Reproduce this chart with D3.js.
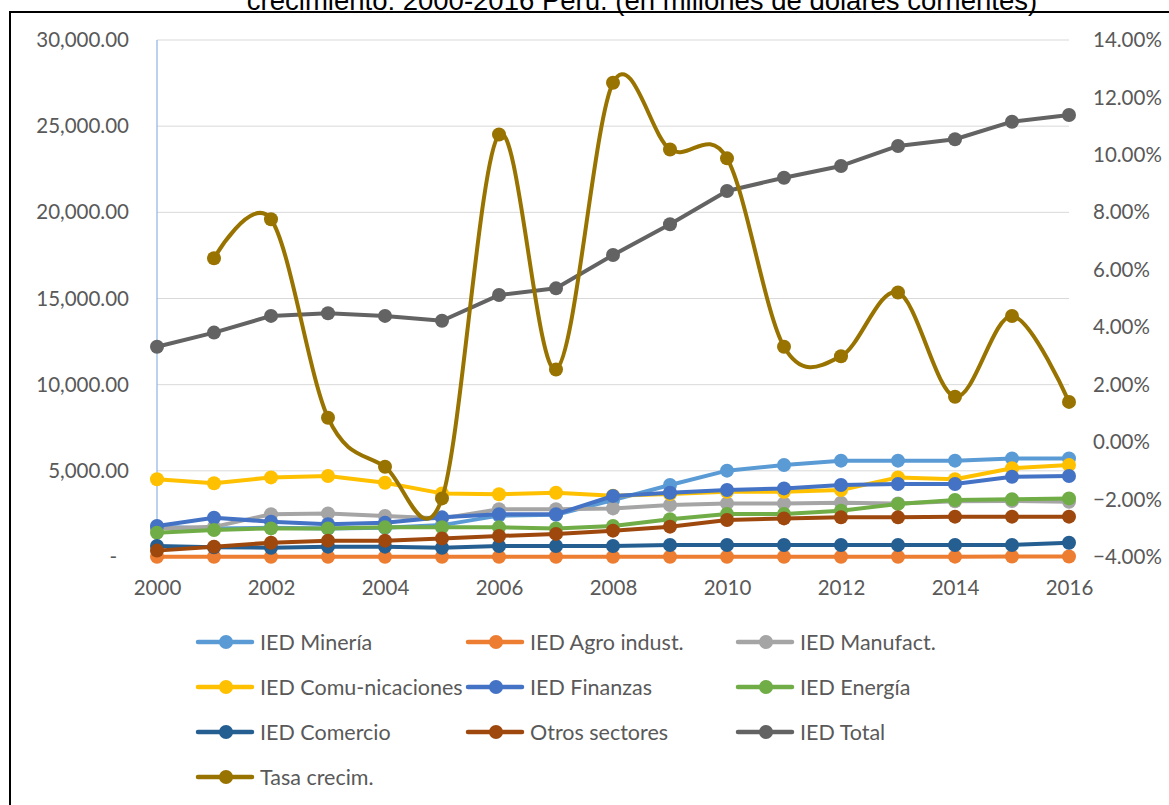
<!DOCTYPE html>
<html>
<head>
<meta charset="utf-8">
<script src="https://cdn.jsdelivr.net/npm/d3@7"></script>
<style>
  html, body { margin: 0; padding: 0; background: #fff; }
  svg { display: block; }
</style>
</head>
<body>
<svg id="chart" width="1169" height="805"></svg>
<script>
const titleText = "crecimiento: 2000-2016 Perú. (en millones de dólares corrientes)";
const years = [2000,2001,2002,2003,2004,2005,2006,2007,2008,2009,2010,2011,2012,2013,2014,2015,2016];
const xTickYears = [2000,2002,2004,2006,2008,2010,2012,2014,2016];
const leftTicks = [0,5000,10000,15000,20000,25000,30000];
const rightTicks = [-0.04,-0.02,0,0.02,0.04,0.06,0.08,0.10,0.12,0.14];

const mineria      = [1750,1650,1700,1650,1700,1850,2400,2450,3300,4180,5010,5340,5590,5590,5590,5720,5720];
const agro         = [15,15,15,15,15,15,15,15,15,15,15,15,15,15,20,25,25];
const manufact     = [1650,1750,2480,2530,2380,2240,2770,2770,2820,3020,3110,3110,3150,3110,3230,3250,3210];
const comunic      = [4510,4280,4620,4700,4310,3690,3640,3730,3560,3660,3790,3790,3890,4620,4510,5150,5340];
const finanzas     = [1800,2280,2050,1900,1990,2300,2480,2480,3540,3730,3890,3980,4180,4240,4240,4660,4700];
const energia      = [1410,1570,1660,1660,1720,1720,1720,1660,1800,2190,2500,2500,2690,3080,3310,3350,3400];
const comercio     = [640,560,540,600,600,540,640,640,640,700,700,700,700,700,700,700,830];
const otros        = [370,600,830,950,950,1080,1220,1340,1530,1760,2150,2240,2300,2300,2340,2340,2340];
const total        = [12200,13020,13990,14140,13990,13710,15200,15590,17520,19310,21240,22010,22690,23850,24240,25260,25650];
const tasa         = [null,0.0640,0.0776,0.0085,-0.0086,-0.0196,0.1071,0.0253,0.1251,0.1019,0.0988,0.0332,0.0299,0.0521,0.0158,0.0439,0.0140];

const seriesNames  = ["IED Minería","IED Agro indust.","IED Manufact.","IED Comu-nicaciones","IED Finanzas","IED Energía","IED Comercio","Otros sectores","IED Total","Tasa crecim."];
const seriesColors = ["#5B9BD5","#ED7D31","#A5A5A5","#FFC000","#4472C4","#70AD47","#255E91","#9E480E","#636363","#997300"];
const seriesValues = [mineria,agro,manufact,comunic,finanzas,energia,comercio,otros,total,tasa];

const series = seriesNames.map((n,i)=>({name:n,color:seriesColors[i],values:seriesValues[i],right:i===9}));

const svg = d3.select("#chart");
const font = "Lato, 'Liberation Sans', sans-serif";
const grayText = "#595959";
const tickSize = 20.5;

const x = d3.scaleLinear().domain([2000,2016]).range([157,1069]);
const yL = d3.scaleLinear().domain([0,30000]).range([557,40]);
const yR = d3.scaleLinear().domain([-0.04,0.14]).range([557,40]);

// title (partially cut at top, as in the source)
svg.append("text").attr("x",642).attr("y",9.5).attr("text-anchor","middle")
  .attr("font-family","'Liberation Sans', Arial, sans-serif").attr("font-size",27.5).attr("fill","#000")
  .text(titleText);

// frame
svg.append("path").attr("d","M10,806 L10,12 L1175,12").attr("fill","none").attr("stroke","#000").attr("stroke-width",2);

// gridlines
svg.append("g").selectAll("line").data(leftTicks).join("line")
  .attr("x1",x(2000)).attr("x2",x(2016)).attr("y1",d=>yL(d)).attr("y2",d=>yL(d))
  .attr("stroke","#D9D9D9").attr("stroke-width",1);

// left axis
const fmtL = d => d===0 ? "-" : d3.format(",.2f")(d);
const gL = svg.append("g").attr("transform","translate(129,0)")
  .call(d3.axisLeft(yL).tickValues(leftTicks).tickFormat(fmtL).tickSize(0).tickPadding(0));
gL.select(".domain").remove();
gL.selectAll("text").attr("font-family",font).attr("font-size",tickSize).attr("fill",grayText)
  .attr("dx",d=>d===0?-12:0);

// right axis
const gR = svg.append("g").attr("transform","translate(1093,0)")
  .call(d3.axisRight(yR).tickValues(rightTicks).tickFormat(d3.format(".2%")).tickSize(0).tickPadding(0));
gR.select(".domain").remove();
gR.selectAll("text").attr("font-family",font).attr("font-size",tickSize).attr("fill",grayText);

// x axis
const gX = svg.append("g").attr("transform","translate(0,580)")
  .call(d3.axisBottom(x).tickValues(xTickYears).tickFormat(d3.format("d")).tickSize(0).tickPadding(0));
gX.select(".domain").remove();
gX.selectAll("text").attr("font-family",font).attr("font-size",tickSize).attr("fill",grayText);

// vertical axis line (light blue)
svg.append("line").attr("x1",x(2000)).attr("x2",x(2000)).attr("y1",yL(30000)).attr("y2",yL(0))
  .attr("stroke","#8DB4E2").attr("stroke-width",1.2);

// series
const plot = svg.append("g");
series.forEach(s=>{
  const ys = s.right ? yR : yL;
  const pts = years.map((yr,i)=>({yr, v:s.values[i]})).filter(p=>p.v!==null);
  const line = d3.line().x(p=>x(p.yr)).y(p=>ys(p.v))
    .curve(s.right ? d3.curveCardinal.tension(0) : d3.curveLinear);
  const g = plot.append("g");
  g.append("path").datum(pts).attr("d",line).attr("fill","none")
    .attr("stroke",s.color).attr("stroke-width",4).attr("stroke-linejoin","round").attr("stroke-linecap","round");
  g.selectAll("circle").data(pts).join("circle")
    .attr("cx",p=>x(p.yr)).attr("cy",p=>ys(p.v)).attr("r",7).attr("fill",s.color);
});

// legend
const legCols = [198,468,738];
const legRows = [642,687,732,777];
const leg = svg.append("g");
series.forEach((s,i)=>{
  const cx = legCols[i%3], cy = legRows[Math.floor(i/3)];
  const g = leg.append("g").attr("transform",`translate(${cx},${cy})`);
  g.append("line").attr("x1",0).attr("x2",54).attr("y1",0).attr("y2",0)
    .attr("stroke",s.color).attr("stroke-width",4.5).attr("stroke-linecap","round");
  g.append("circle").attr("cx",28).attr("cy",0).attr("r",7).attr("fill",s.color);
  g.append("text").attr("x",62).attr("y",0).attr("dy","0.35em")
    .attr("font-family",font).attr("font-size",21.5).attr("fill",grayText).text(s.name);
});
</script>
</body>
</html>
